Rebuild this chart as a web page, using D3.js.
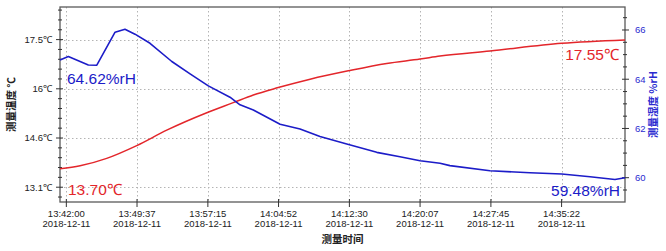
<!DOCTYPE html>
<html><head><meta charset="utf-8">
<script src="https://cdn.jsdelivr.net/npm/d3@7"></script>
<style>
html,body{margin:0;padding:0;background:#fff;}
svg{display:block;}
</style>
</head><body>
<svg id="chart" width="666" height="251"></svg>
<script>
// ---- data ----
const tempTimes = ["13:41:19","13:43:29","13:46:21","13:49:35","13:52:49","13:57:08","13:59:59","14:02:09","14:04:50","14:08:16","14:12:23","14:16:31","14:20:07","14:22:16","14:27:39","14:35:23","14:42:12"];
const tempValues = [13.65,13.74,13.96,14.34,14.80,15.32,15.62,15.85,16.07,16.32,16.57,16.79,16.92,17.01,17.16,17.39,17.49];
const humTimes = ["13:41:19","13:42:13","13:44:22","13:45:17","13:47:15","13:48:19","13:49:24","13:51:01","13:53:22","13:55:20","13:57:18","13:59:38","14:00:43","14:02:09","14:05:02","14:07:11","14:09:20","14:12:13","14:15:27","14:17:57","14:20:07","14:22:16","14:23:20","14:27:39","14:31:58","14:35:23","14:38:26","14:41:07","14:42:12"];
const humValues = [64.78,64.92,64.58,64.57,65.91,66.03,65.83,65.46,64.72,64.22,63.73,63.27,62.96,62.75,62.17,61.98,61.67,61.37,61.03,60.85,60.69,60.59,60.49,60.28,60.20,60.15,60.04,59.93,60.00];
const xTickLabels = ["13:42:00","13:49:37","13:57:15","14:04:52","14:12:30","14:20:07","14:27:45","14:35:22"];
const xDateLabel = "2018-12-11";
const leftTickValues = [13.1, 14.5667, 16.0333, 17.5];
const leftTickLabels = ["13.1℃","14.6℃","16℃","17.5℃"];
const rightTickValues = [60, 62, 64, 66];
const tempNotes = ["13.70℃","17.55℃"];
const humNotes = ["64.62%rH","59.48%rH"];
const leftTitle = "测量温度 ℃";
const rightTitle = "测量湿度 %rH";
const xTitle = "测量时间";

// ---- layout ----
const L = 60, R = 625, T = 7, B = 202;
const red = "#e3262b", blue = "#1c1cc8";
const numFont = "'Liberation Sans', Arial, sans-serif";
const cjkFont = "'Noto Sans CJK SC', 'Liberation Sans', sans-serif";
const parse = d3.timeParse("%H:%M:%S");

const svg = d3.select("#chart");

const x = d3.scaleTime()
  .domain([parse("13:41:19"), parse("14:42:12")])
  .range([L, R]);
const yT = d3.scaleLinear().domain([12.659, 18.472]).range([B, T]);
const yH = d3.scaleLinear().domain([59.013, 66.934]).range([B, T]);

// gridlines
const grid = svg.append("g").attr("stroke", "#b4b4b4").attr("stroke-width", 1).attr("stroke-dasharray", "1.5,2.5");
xTickLabels.forEach(s => {
  const px = Math.round(x(parse(s))) + 0.5;
  grid.append("line").attr("x1", px).attr("x2", px).attr("y1", T).attr("y2", B);
});
leftTickValues.forEach(v => {
  const py = Math.round(yT(v)) + 0.5;
  grid.append("line").attr("x1", L).attr("x2", R).attr("y1", py).attr("y2", py);
});

// frame
svg.append("rect").attr("x", L).attr("y", T).attr("width", R - L).attr("height", B - T)
  .attr("fill", "none").attr("stroke", "#5a5a5a").attr("stroke-width", 1.3);

// left axis ticks
const leftMinor = [];
for (let i = 0; i < leftTickValues.length - 1; i++) {
  const st = (leftTickValues[i+1] - leftTickValues[i]) / 5;
  for (let k = 1; k < 5; k++) leftMinor.push(leftTickValues[i] + st * k);
}
{
  const st = (leftTickValues[1] - leftTickValues[0]) / 5;
  for (let v = leftTickValues[3] + st; v < yT.domain()[1]; v += st) leftMinor.push(v);
  for (let v = leftTickValues[0] - st; v > yT.domain()[0]; v -= st) leftMinor.push(v);
}
const ax = svg.append("g").attr("stroke", "#333").attr("stroke-width", 1);
leftMinor.forEach(v => {
  const py = yT(v);
  ax.append("line").attr("x1", L - 2).attr("x2", L + 2).attr("y1", py).attr("y2", py);
});
leftTickValues.forEach(v => {
  const py = yT(v);
  ax.append("line").attr("x1", L - 4).attr("x2", L + 3).attr("y1", py).attr("y2", py);
});
// right axis ticks
const rightMinor = d3.range(59.5, 67, 0.5).filter(v => !rightTickValues.includes(v) && v > yH.domain()[0] && v < yH.domain()[1]);
rightMinor.forEach(v => {
  const py = yH(v);
  ax.append("line").attr("x1", R - 2).attr("x2", R + 2).attr("y1", py).attr("y2", py);
});
rightTickValues.forEach(v => {
  const py = yH(v);
  ax.append("line").attr("x1", R - 3).attr("x2", R + 4).attr("y1", py).attr("y2", py);
});
// bottom ticks
xTickLabels.forEach(s => {
  const px = x(parse(s));
  ax.append("line").attr("x1", px).attr("x2", px).attr("y1", B - 3).attr("y2", B + 5);
});

// tick labels
svg.append("g").selectAll("text").data(leftTickValues).join("text")
  .attr("x", 52).attr("y", d => yT(d)).attr("dy", "0.35em")
  .attr("text-anchor", "end").attr("font-family", numFont).attr("font-size", 9.5)
  .attr("fill", "#222").text((d, i) => leftTickLabels[i]);
svg.append("g").selectAll("text").data(rightTickValues).join("text")
  .attr("x", 635).attr("y", d => yH(d)).attr("dy", "0.35em")
  .attr("font-family", numFont).attr("font-size", 9.5)
  .attr("fill", "#2a2ad0").text(d => d);
const xl = svg.append("g").attr("font-family", numFont).attr("font-size", 9.5).attr("fill", "#222").attr("text-anchor", "middle");
xTickLabels.forEach(s => {
  const px = x(parse(s));
  xl.append("text").attr("x", px).attr("y", 216.5).text(s);
  xl.append("text").attr("x", px).attr("y", 226.5).text(xDateLabel);
});

// axis titles
svg.append("text").attr("transform", `translate(15,${(T + B) / 2}) rotate(-90)`)
  .attr("text-anchor", "middle").attr("font-family", cjkFont).attr("font-weight", "bold")
  .attr("font-size", 10.5).attr("fill", "#222").text(leftTitle);
svg.append("text").attr("transform", `translate(657,${(T + B) / 2}) rotate(-90)`)
  .attr("text-anchor", "middle").attr("font-family", cjkFont).attr("font-weight", "bold")
  .attr("font-size", 10.5).attr("fill", "#2a2ad0").text(rightTitle);
svg.append("text").attr("x", (L + R) / 2).attr("y", 243)
  .attr("text-anchor", "middle").attr("font-family", cjkFont).attr("font-weight", "bold")
  .attr("font-size", 10.5).attr("fill", "#222").text(xTitle);

// lines
const lineT = d3.line().x((d, i) => x(parse(tempTimes[i]))).y(d => yT(d)).curve(d3.curveMonotoneX);
const lineH = d3.line().x((d, i) => x(parse(humTimes[i]))).y(d => yH(d));
svg.append("path").datum(tempValues).attr("d", lineT).attr("fill", "none")
  .attr("stroke", red).attr("stroke-width", 1.5).attr("stroke-linejoin", "round");
svg.append("path").datum(humValues).attr("d", lineH).attr("fill", "none")
  .attr("stroke", blue).attr("stroke-width", 1.6).attr("stroke-linejoin", "round");

// annotations
const noteFont = 15.5;
svg.append("text").attr("x", 67).attr("y", 84).attr("font-family", numFont).attr("font-size", noteFont)
  .attr("fill", blue).text(humNotes[0]);
svg.append("text").attr("x", 68).attr("y", 195).attr("font-family", numFont).attr("font-size", noteFont)
  .attr("fill", red).text(tempNotes[0]);
svg.append("text").attr("x", 619).attr("y", 60).attr("text-anchor", "end").attr("font-family", numFont).attr("font-size", noteFont)
  .attr("fill", red).text(tempNotes[1]);
svg.append("text").attr("x", 620).attr("y", 196).attr("text-anchor", "end").attr("font-family", numFont).attr("font-size", noteFont)
  .attr("fill", blue).text(humNotes[1]);
</script>
</body></html>
